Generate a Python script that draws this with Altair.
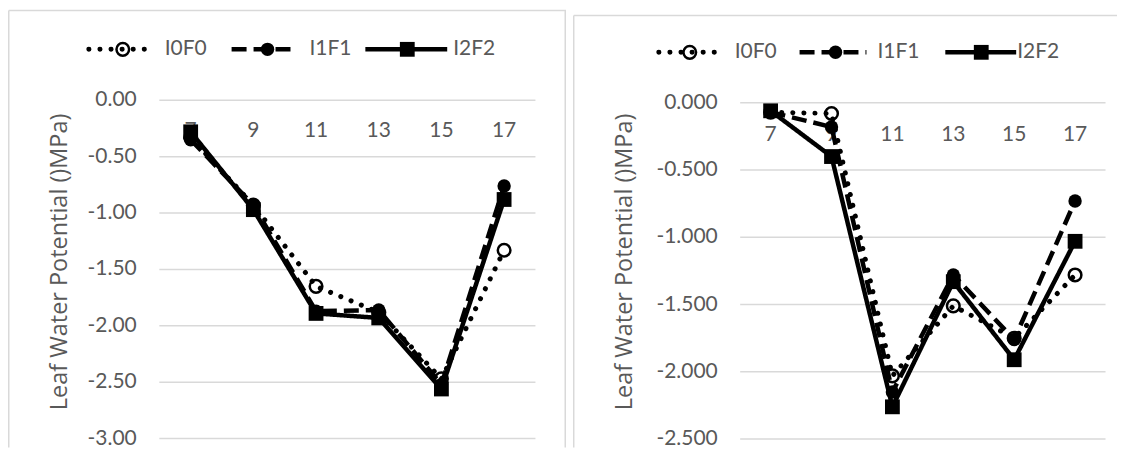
import altair as alt
import pandas as pd

# ---------------- data ----------------
hours = [7, 9, 11, 13, 15, 17]
hour_labels = ["7", "9", "11", "13", "15", "17"]
series_names = ["I0F0", "I1F1", "I2F2"]

left_I0F0 = [-0.33, -0.93, -1.65, -1.88, -2.47, -1.33]
left_I1F1 = [-0.35, -0.93, -1.87, -1.86, -2.52, -0.76]
left_I2F2 = [-0.28, -0.97, -1.89, -1.93, -2.56, -0.88]

right_I0F0 = [-0.07, -0.08, -2.03, -1.51, -1.75, -1.28]
right_I1F1 = [-0.07, -0.18, -2.15, -1.28, -1.76, -0.73]
right_I2F2 = [-0.06, -0.40, -2.26, -1.33, -1.91, -1.03]

left_ticks = [0.0, -0.5, -1.0, -1.5, -2.0, -2.5, -3.0]
left_tick_labels = ["0.00", "-0.50", "-1.00", "-1.50", "-2.00", "-2.50", "-3.00"]
right_ticks = [0.0, -0.5, -1.0, -1.5, -2.0, -2.5]
right_tick_labels = ["0.000", "-0.500", "-1.000", "-1.500", "-2.000", "-2.500"]

y_title = "Leaf Water Potential ()MPa)"

# ---------------- style ----------------
FONT = "Lato"
TITLE_FONT = "Open Sans"
FS = 21
TXT = "#595959"
GRID = "#d9d9d9"
H = 440

styles = {
    "I0F0": dict(dash=[0.1, 11], cap="round", sw=5, shape="circle", filled=False, size=160),
    "I1F1": dict(dash=[15, 7], cap="butt", sw=4.5, shape="circle", filled=True, size=180),
    "I2F2": dict(dash=[1, 0], cap="butt", sw=4.5, shape="square", filled=True, size=220),
}


def panel(vals, ticks, tick_labels, W, x7, x17, y0, ypx_per_unit, ylab_x, xlab_y,
          title_x, title_y, legend, border_top, right_border):
    # scales computed from layout anchors
    px_per_hour = (x17 - x7) / (hours[-1] - hours[0])
    xdom = [hours[0] - x7 / px_per_hour, hours[0] + (W - x7) / px_per_hour]
    ydom = [-(H - y0) / ypx_per_unit, y0 / ypx_per_unit]
    xs = alt.Scale(domain=xdom, nice=False, zero=False)
    ys = alt.Scale(domain=ydom, nice=False, zero=False)

    layers = []
    # panel borders
    one = pd.DataFrame({"a": [0]})
    layers.append(alt.Chart(one).mark_rule(color=GRID, strokeWidth=1.5).encode(
        x=alt.value(0.75), x2=alt.value(W), y=alt.value(border_top)))
    layers.append(alt.Chart(one).mark_rule(color=GRID, strokeWidth=1.5).encode(
        x=alt.value(0.75), y=alt.value(border_top), y2=alt.value(H)))
    if right_border:
        layers.append(alt.Chart(one).mark_rule(color=GRID, strokeWidth=1.5).encode(
            x=alt.value(W - 0.75), y=alt.value(border_top), y2=alt.value(H)))

    # gridlines
    grid = pd.DataFrame({"v": ticks, "x0": [hours[0] - 1] * len(ticks),
                         "x1": [hours[-1] + 1] * len(ticks), "lab": tick_labels})
    layers.append(alt.Chart(grid).mark_rule(color=GRID, strokeWidth=1.5).encode(
        y=alt.Y("v:Q", scale=ys, axis=None),
        x=alt.X("x0:Q", scale=xs, axis=None), x2="x1:Q"))
    # y labels
    layers.append(alt.Chart(grid).mark_text(align="right", baseline="middle", font=FONT,
                                            fontSize=FS, color=TXT).encode(
        y=alt.Y("v:Q", scale=ys, axis=None), x=alt.value(ylab_x), text="lab:N"))
    # x labels
    xl = pd.DataFrame({"hour": hours, "lab": hour_labels})
    layers.append(alt.Chart(xl).mark_text(align="center", baseline="middle", font=FONT,
                                          fontSize=FS, color=TXT).encode(
        x=alt.X("hour:Q", scale=xs, axis=None), y=alt.value(xlab_y), text="lab:N"))
    # y title
    layers.append(alt.Chart(one).mark_text(angle=270, align="center", baseline="middle",
                                           font=TITLE_FONT, fontSize=23.5, color=TXT).encode(
        x=alt.value(title_x), y=alt.value(title_y), text=alt.value(y_title)))

    # series
    for name, v in zip(series_names, vals):
        st = styles[name]
        df = pd.DataFrame({"hour": hours, "value": v})
        base = alt.Chart(df).encode(x=alt.X("hour:Q", scale=xs, axis=None),
                                    y=alt.Y("value:Q", scale=ys, axis=None))
        layers.append(base.mark_line(color="black", strokeWidth=st["sw"],
                                     strokeDash=st["dash"], strokeCap=st["cap"]))
        if st["filled"]:
            layers.append(base.mark_point(shape=st["shape"], filled=True, color="black",
                                          size=st["size"], opacity=1))
        else:
            layers.append(base.mark_point(shape=st["shape"], filled=False, color="black",
                                          size=st["size"], strokeWidth=2.5, opacity=1))

    # legend
    ly = legend["y"]
    for name, (lx0, lx1, cx, tx) in zip(series_names, legend["items"]):
        st = styles[name]
        layers.append(alt.Chart(one).mark_rule(color="black", strokeWidth=st["sw"],
                                               strokeDash=st["dash"], strokeCap=st["cap"]).encode(
            x=alt.value(lx0), x2=alt.value(lx1), y=alt.value(ly)))
        if st["filled"]:
            layers.append(alt.Chart(one).mark_point(shape=st["shape"], filled=True, color="black",
                                                    size=st["size"], opacity=1).encode(
                x=alt.value(cx), y=alt.value(ly)))
        else:
            layers.append(alt.Chart(one).mark_point(shape=st["shape"], filled=False, color="black",
                                                    size=st["size"], strokeWidth=2.5, opacity=1).encode(
                x=alt.value(cx), y=alt.value(ly)))
        layers.append(alt.Chart(one).mark_text(align="left", baseline="middle", font=FONT,
                                               fontSize=FS, color=TXT).encode(
            x=alt.value(tx), y=alt.value(ly), text=alt.value(name)))

    return alt.layer(*layers).properties(width=W, height=H)


left = panel([left_I0F0, left_I1F1, left_I2F2], left_ticks, left_tick_labels,
             W=559, x7=183, x17=497, y0=92, ypx_per_unit=113, ylab_x=129, xlab_y=122.5,
             title_x=52, title_y=254,
             legend={"y": 41, "items": [(81, 146, 115, 157), (224, 288, 260, 302),
                                        (358, 440, 400, 446)]},
             border_top=2, right_border=True)

right = panel([right_I0F0, right_I1F1, right_I2F2], right_ticks, right_tick_labels,
              W=545, x7=198, x17=503, y0=94.5, ypx_per_unit=134.8, ylab_x=145, xlab_y=127,
              title_x=52, title_y=254,
              legend={"y": 44, "items": [(86, 151, 117, 162), (227, 294, 263, 305),
                                         (373, 444, 409, 445)]},
              border_top=7, right_border=False)

chart = alt.hconcat(left, right, spacing=6).properties(padding=0).configure_view(strokeWidth=0)

chart.save("out.html", embed_options={"renderer": "svg", "actions": False})
